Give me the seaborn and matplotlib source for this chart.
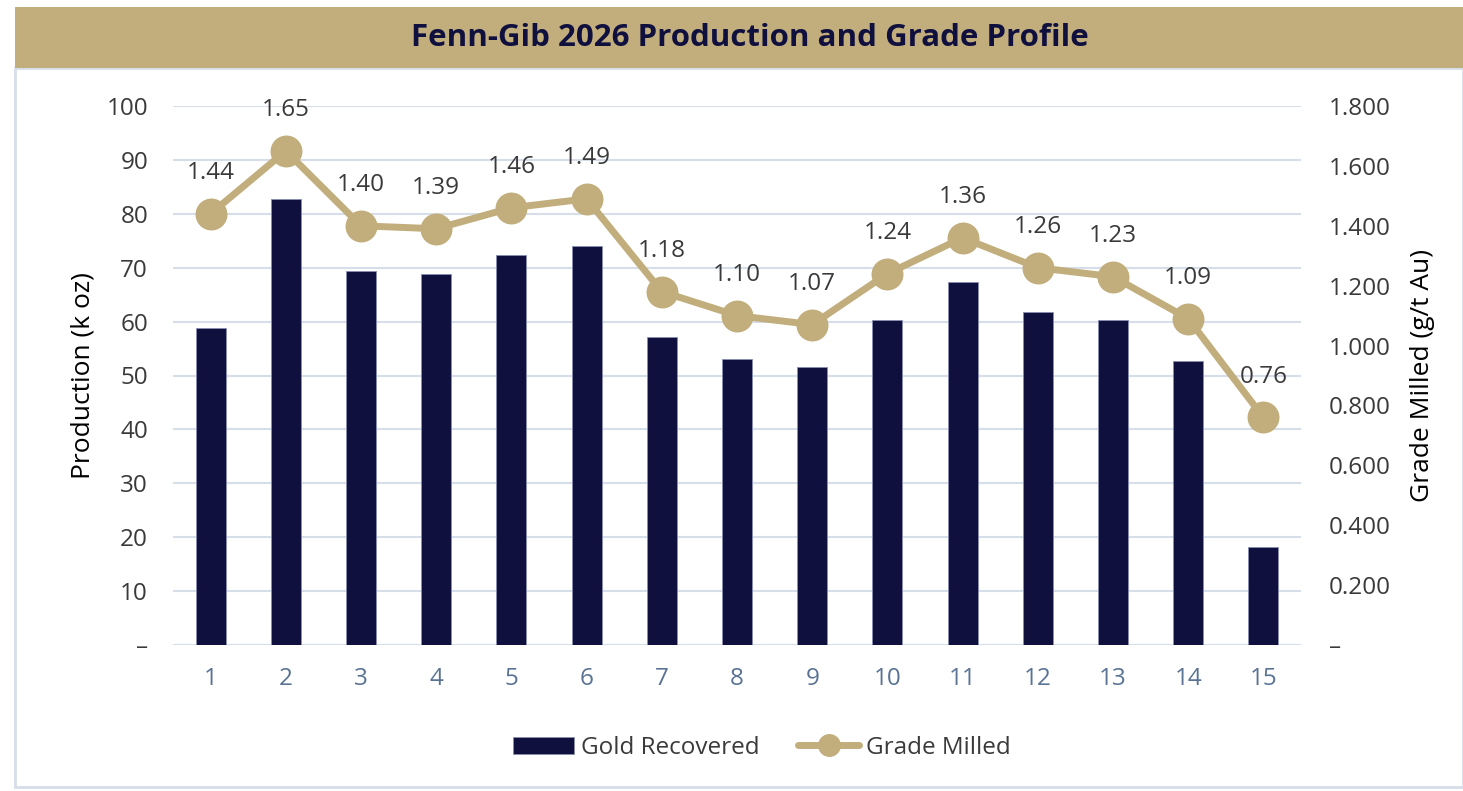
import matplotlib
matplotlib.use("Agg")
import matplotlib.pyplot as plt
import seaborn as sns
import pandas as pd
import numpy as np
from matplotlib.patches import Rectangle
from matplotlib.lines import Line2D
from matplotlib.patches import Patch

periods = [str(i) for i in range(1, 16)]
gold_recovered = [58.8, 82.7, 69.4, 68.8, 72.4, 74.0, 57.1, 53.1, 51.6, 60.3, 67.3, 61.8, 60.3, 52.7, 18.2]
grade_milled = [1.44, 1.65, 1.40, 1.39, 1.46, 1.49, 1.18, 1.10, 1.07, 1.24, 1.36, 1.26, 1.23, 1.09, 0.76]
left_ticks = [0, 10, 20, 30, 40, 50, 60, 70, 80, 90, 100]
left_labels = ["\u2013", "10", "20", "30", "40", "50", "60", "70", "80", "90", "100"]
right_ticks = [0, 0.2, 0.4, 0.6, 0.8, 1.0, 1.2, 1.4, 1.6, 1.8]
right_labels = ["\u2013", "0.200", "0.400", "0.600", "0.800", "1.000", "1.200", "1.400", "1.600", "1.800"]

NAVY = "#10103F"
GOLD = "#C2AE7C"
GRID = "#D6DEEA"
TXT = "#3A3A3A"
XTXT = "#5A7394"
FS = 17.5

sns.set_theme(style="white")
plt.rcParams["font.family"] = ["Open Sans", "DejaVu Sans"]

W, H = 1463, 791
fig = plt.figure(figsize=(W / 100, H / 100), dpi=100)

# panel border and title bar
fig.patches.append(Rectangle((15 / W, 0.005), 1 - 15 / W, (791 - 68) / H - 0.005, transform=fig.transFigure,
                             facecolor="none", edgecolor="#D6DEEA", linewidth=2, zorder=0))
fig.patches.append(Rectangle((15 / W, (791 - 68) / H), 1 - 15 / W, 61 / H, transform=fig.transFigure,
                             facecolor=GOLD, edgecolor="none", zorder=1))
fig.text(750 / W, (791 - 38) / H, "Fenn-Gib 2026 Production and Grade Profile", ha="center", va="center",
         fontsize=22.5, fontweight="bold", color=NAVY, zorder=2)

ax = fig.add_axes([173 / W, (791 - 645) / H, (1301 - 173) / W, (645 - 106) / H])
ax.set_zorder(3)
df = pd.DataFrame({"period": periods, "gold": gold_recovered, "grade": grade_milled})
sns.barplot(data=df, x="period", y="gold", color=NAVY, width=0.4, saturation=1,
            edgecolor="#8A8FB0", linewidth=0.6, ax=ax, zorder=3)
ax.set_ylim(0, 100)
ax.set_xlim(-0.5, 14.5)
ax.set_yticks(left_ticks)
ax.set_yticklabels(left_labels)
ax.yaxis.grid(True, color=GRID, linewidth=1.5)
ax.set_axisbelow(True)
for s in ax.spines.values():
    s.set_visible(False)
ax.tick_params(axis="y", length=0, pad=18, labelsize=FS, labelcolor=TXT)
ax.tick_params(axis="x", length=0, pad=16, labelsize=FS, labelcolor=XTXT)
ax.set_xlabel("")
ax.set_ylabel("Production (k oz)", fontsize=19, color="black", labelpad=8)

ax2 = ax.twinx()
xpos = np.arange(len(periods))
line_df = pd.DataFrame({"x": xpos, "grade": grade_milled})
sns.lineplot(data=line_df, x="x", y="grade", color=GOLD, linewidth=5, marker="o", markersize=23,
             markeredgewidth=0, ax=ax2, zorder=4)
ax2.set_ylim(0, 1.8)
ax2.set_yticks(right_ticks)
ax2.set_yticklabels(right_labels)
for s in ax2.spines.values():
    s.set_visible(False)
ax2.tick_params(axis="y", length=0, pad=20, labelsize=FS, labelcolor=TXT)
ax2.set_ylabel("Grade Milled (g/t Au)", fontsize=19, color="black", labelpad=14)
ax2.set_xlabel("")
ax2.grid(False)
for xi, v in zip(xpos, grade_milled):
    ax2.annotate(f"{v:.2f}", (xi, v), xytext=(0, 25), textcoords="offset points", ha="center",
                 va="baseline", fontsize=FS, color=TXT)

handles = [Patch(facecolor=NAVY, edgecolor="#8A8FB0", linewidth=0.5),
           Line2D([0], [0], color=GOLD, linewidth=5, marker="o", markersize=16.5, markeredgewidth=0)]
fig.legend(handles, ["Gold Recovered", "Grade Milled"], loc="center", bbox_to_anchor=(762 / W, (791 - 748) / H),
           ncol=2, frameon=False, fontsize=FS, handlelength=2.5, handleheight=0.7, columnspacing=1.6,
           handletextpad=0.3, labelcolor=TXT)

fig.savefig("out.png", dpi=100)
